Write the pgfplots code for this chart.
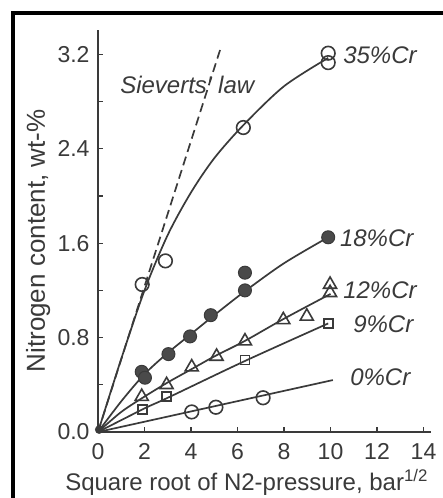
\documentclass[border=0pt]{standalone}
\usepackage{fontspec}
\setmainfont{Liberation Sans}
\usepackage{pgfplots}
\pgfplotsset{compat=1.18}
\definecolor{ink}{HTML}{3A3A3A}
\definecolor{dot}{HTML}{4A4A4A}
\begin{document}
\begin{tikzpicture}[x=1bp,y=1bp]
\useasboundingbox (0,0) rectangle (443,498);
\fill[white] (0,0) rectangle (443,498);
\draw[line width=4bp, line join=miter] (13,0) -- (13,485) -- (443,485);
\begin{axis}[
  at={(98bp,66bp)}, anchor=south west,
  scale only axis, width=332.5bp, height=402.4bp,
  xmin=0, xmax=14.3, ymin=0, ymax=3.41,
  axis lines=left,
  axis line style={-, line width=1.5bp, color=ink},
  tick align=inside, major tick length=5bp, minor tick length=5bp,
  every tick/.style={line width=1.3bp, color=ink},
  xtick={0,2,...,14}, ytick={0,0.8,1.6,2.4,3.2}, minor ytick={0.4,1.2,2.0,2.8},
  /pgf/number format/assume math mode=true,
  tick label style={font=\fontsize{23bp}{26bp}\selectfont, color=ink},
  yticklabel style={anchor=east, xshift=-5bp, /pgf/number format/.cd, fixed, fixed zerofill, precision=1},
  xticklabel style={anchor=north, yshift=-8bp},
  xlabel={Square root of N2-pressure, bar\textsuperscript{1/2}},
  ylabel={Nitrogen content, wt-\%},
  xlabel style={font=\fontsize{24bp}{28bp}\selectfont, color=ink, at={(axis description cs:0.447,0)}, anchor=center, yshift=-50bp},
  ylabel style={font=\fontsize{26bp}{30bp}\selectfont, color=ink, at={(axis description cs:-0.18,0.475)}, anchor=center},
  clip=false,
]
% fitted lines
\addplot[ink, line width=1.7bp, dash pattern=on 9bp off 5bp] coordinates {(0,0) (5.27,3.25)};
\addplot[ink, line width=1.7bp, smooth] coordinates {(0,0) (1,0.62) (2,1.2) (3,1.67) (4,2.03) (5,2.32) (6.25,2.6) (8,2.93) (9.9,3.17)};
\addplot[ink, line width=1.7bp, smooth] coordinates {(0,0) (1,0.26) (2,0.49) (3,0.67) (4,0.83) (5,0.99) (6.3,1.19) (8,1.43) (9.9,1.65)};
\addplot[ink, line width=1.7bp, smooth] coordinates {(0,0) (1,0.17) (2,0.3) (3,0.42) (4,0.53) (5,0.64) (6.3,0.77) (8,0.96) (10,1.17)};
\addplot[ink, line width=1.7bp, smooth] coordinates {(0,0) (2,0.2) (3,0.29) (6.3,0.6) (9.9,0.92)};
\addplot[ink, line width=1.7bp] coordinates {(0,0) (10.1,0.44)};
% measured points
\addplot[only marks, mark=o, mark size=6.8bp, mark options={line width=1.6bp, draw=ink, fill=white}] coordinates {(1.9,1.25) (2.9,1.45) (6.25,2.58) (9.9,3.21) (9.9,3.13)};
\addplot[only marks, mark=*, mark size=6.5bp, mark options={line width=1bp, draw=ink, fill=dot}] coordinates {(1.88,0.51) (2.02,0.46) (3.03,0.66) (3.96,0.81) (4.85,0.99) (6.32,1.35) (6.32,1.2) (9.9,1.65)};
\addplot[only marks, mark=triangle, mark size=7.5bp, mark options={line width=1.6bp, draw=ink, fill=white}] coordinates {(1.88,0.3) (2.95,0.4) (4.03,0.55) (5.1,0.64) (6.32,0.77) (7.97,0.95) (8.98,0.98) (9.98,1.25) (9.98,1.18)};
\addplot[only marks, mark=square, mark size=4.5bp, mark options={line width=1.6bp, draw=ink, fill=white}] coordinates {(1.92,0.19) (2.95,0.3) (6.32,0.61) (9.9,0.92)};
\addplot[only marks, mark=o, mark size=6.8bp, mark options={line width=1.6bp, draw=ink, fill=white}] coordinates {(4.03,0.17) (5.07,0.21) (7.1,0.29)};
\addplot[only marks, mark=*, mark size=4bp, mark options={draw=ink, fill=ink}] coordinates {(0.05,0.02)};
% labels
\begin{scope}[every node/.style={font=\fontsize{24bp}{28bp}\selectfont\itshape, text=ink, inner sep=0pt}]
\node[anchor=west] at (axis cs:10.54,3.19) {35\%Cr};
\node[anchor=west] at (axis cs:10.4,1.64) {18\%Cr};
\node[anchor=west] at (axis cs:10.54,1.2) {12\%Cr};
\node[anchor=west] at (axis cs:10.97,0.91) {9\%Cr};
\node[anchor=west] at (axis cs:10.84,0.46) {0\%Cr};
\node[anchor=west] at (axis cs:0.95,2.94) {Sieverts\textquotesingle{} law};
\end{scope}
\end{axis}
\end{tikzpicture}
\end{document}
